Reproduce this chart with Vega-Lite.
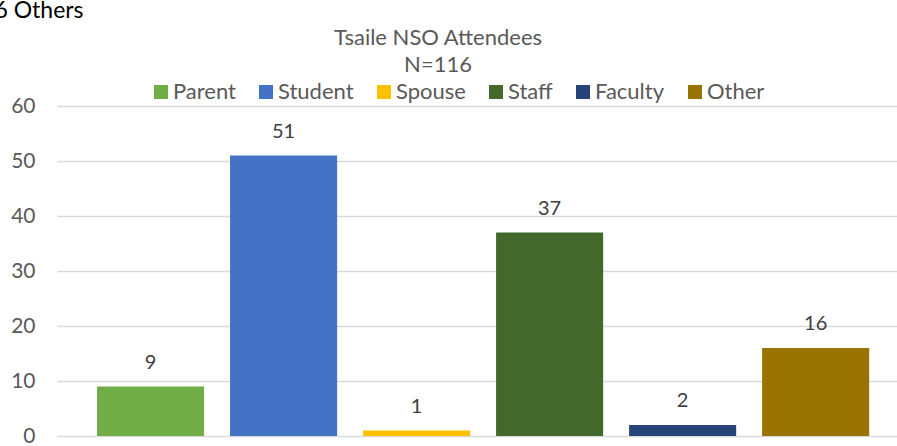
{
  "$schema": "https://vega.github.io/schema/vega-lite/v6.json",
  "width": 840,
  "height": 330,
  "autosize": {"type": "none"},
  "padding": {"left": 57, "top": 106, "right": 0, "bottom": 10},
  "background": "white",
  "title": {
    "text": "Tsaile NSO Attendees",
    "subtitle": "N=116",
    "anchor": "middle",
    "frame": "group",
    "dx": -39,
    "offset": -78,
    "font": "Lato",
    "fontSize": 22,
    "fontWeight": "normal",
    "color": "#595959",
    "subtitleFont": "Lato",
    "subtitleFontSize": 22,
    "subtitleColor": "#595959",
    "subtitlePadding": 5
  },
  "data": {
    "values": [
      {"role": "Parent", "count": 9},
      {"role": "Student", "count": 51},
      {"role": "Spouse", "count": 1},
      {"role": "Staff", "count": 37},
      {"role": "Faculty", "count": 2},
      {"role": "Other", "count": 16}
    ]
  },
  "encoding": {
    "x": {
      "field": "role",
      "type": "nominal",
      "sort": null,
      "scale": {"paddingInner": 0.195, "paddingOuter": 0.255, "align": 0.59},
      "axis": null
    },
    "y": {
      "field": "count",
      "type": "quantitative",
      "scale": {"domain": [0, 60]},
      "axis": {
        "values": [0, 10, 20, 30, 40, 50, 60],
        "title": "6 Others",
        "titleAngle": 0,
        "titleAlign": "left",
        "titleBaseline": "alphabetic",
        "titleX": -63,
        "titleY": -89,
        "titleFont": "Lato",
        "titleFontSize": 23,
        "titleFontWeight": "normal",
        "titleColor": "#000000",
        "labelFont": "Lato",
        "labelFontSize": 21,
        "labelColor": "#595959",
        "labelPadding": 22,
        "ticks": false,
        "domain": false,
        "grid": true,
        "gridColor": "#D9D9D9",
        "gridWidth": 1.5
      }
    }
  },
  "layer": [
    {
      "mark": {"type": "bar"},
      "encoding": {
        "color": {
          "field": "role",
          "type": "nominal",
          "sort": null,
          "scale": {
            "domain": ["Parent", "Student", "Spouse", "Staff", "Faculty", "Other"],
            "range": ["#70AD47", "#4472C4", "#FFC000", "#43682B", "#264478", "#997300"]
          },
          "legend": {
            "orient": "none",
            "direction": "horizontal",
            "legendX": 93,
            "legendY": -25,
            "title": null,
            "symbolType": "square",
            "symbolSize": 196,
            "symbolStrokeWidth": 0,
            "labelFont": "Lato",
            "labelFontSize": 22,
            "labelColor": "#595959",
            "labelOffset": 1,
            "columnPadding": 19
          }
        }
      }
    },
    {
      "mark": {"type": "text", "baseline": "bottom", "dy": -14, "font": "Lato", "fontSize": 20, "color": "#404040"},
      "encoding": {
        "text": {"field": "count", "type": "quantitative"}
      }
    }
  ],
  "config": {"view": {"stroke": null}}
}
